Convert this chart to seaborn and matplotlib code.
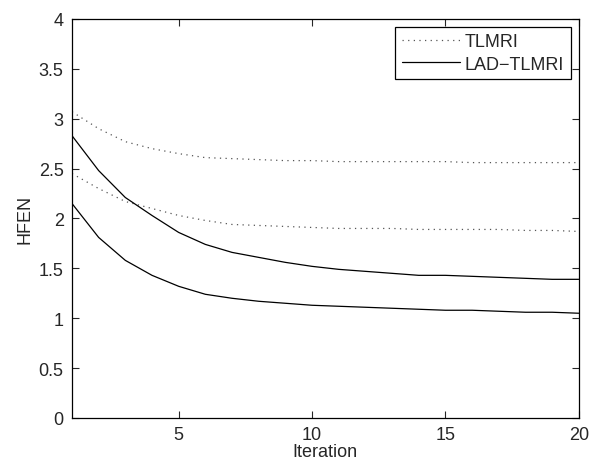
import numpy as np
import pandas as pd
import matplotlib
matplotlib.use("Agg")
import matplotlib.pyplot as plt
import seaborn as sns

# ==================== DONNÉES ====================
iterations = list(range(1, 21))
tlmri_high = [3.07, 2.90, 2.77, 2.70, 2.65, 2.61, 2.60, 2.59, 2.58, 2.58,
              2.57, 2.57, 2.57, 2.57, 2.57, 2.56, 2.56, 2.56, 2.56, 2.56]
tlmri_low = [2.45, 2.30, 2.17, 2.10, 2.03, 1.98, 1.94, 1.93, 1.92, 1.91,
             1.90, 1.90, 1.90, 1.89, 1.89, 1.89, 1.89, 1.88, 1.88, 1.87]
lad_high = [2.83, 2.48, 2.21, 2.03, 1.86, 1.74, 1.66, 1.61, 1.56, 1.52,
            1.49, 1.47, 1.45, 1.43, 1.43, 1.42, 1.41, 1.40, 1.39, 1.39]
lad_low = [2.15, 1.81, 1.58, 1.43, 1.32, 1.24, 1.20, 1.17, 1.15, 1.13,
           1.12, 1.11, 1.10, 1.09, 1.08, 1.08, 1.07, 1.06, 1.06, 1.05]

# ==================== FIGURE ====================
sns.set_style("ticks")
plt.rcParams['font.family'] = ['Liberation Sans', 'DejaVu Sans']
plt.rcParams['font.size'] = 13

fig = plt.figure(figsize=(5.9, 4.64), dpi=100)
ax = fig.add_axes([0.122, 0.097, 0.859, 0.860])

dotted = (0, (1, 3.5))
dot_color = '#555555'
sns.lineplot(x=iterations, y=tlmri_high, ax=ax, color=dot_color, linestyle=dotted, linewidth=0.9, label='TLMRI')
sns.lineplot(x=iterations, y=tlmri_low, ax=ax, color=dot_color, linestyle=dotted, linewidth=0.9)
sns.lineplot(x=iterations, y=lad_high, ax=ax, color='k', linewidth=0.9, label='LAD\u2212TLMRI')
sns.lineplot(x=iterations, y=lad_low, ax=ax, color='k', linewidth=0.9)

ax.set_xlim(1, 20)
ax.set_ylim(0, 4)
ax.set_xticks([5, 10, 15, 20])
ax.set_yticks(np.arange(0, 4.01, 0.5))
ax.set_yticklabels(['0', '0.5', '1', '1.5', '2', '2.5', '3', '3.5', '4'])
ax.set_xlabel('Iteration', labelpad=0)
ax.set_ylabel('HFEN', labelpad=4)

ax.tick_params(direction='in', top=True, right=True, length=5, width=0.8, labelsize=13, pad=6)
for s in ax.spines.values():
    s.set_visible(True)
    s.set_linewidth(0.9)
    s.set_color('k')

leg = ax.legend(loc='upper right', fontsize=13, frameon=True, fancybox=False,
                edgecolor='k', framealpha=1, handlelength=3.2, borderpad=0.35,
                labelspacing=0.3, handletextpad=0.3, borderaxespad=0.45)
leg.get_frame().set_linewidth(0.9)

plt.savefig('out.png', dpi=100)
